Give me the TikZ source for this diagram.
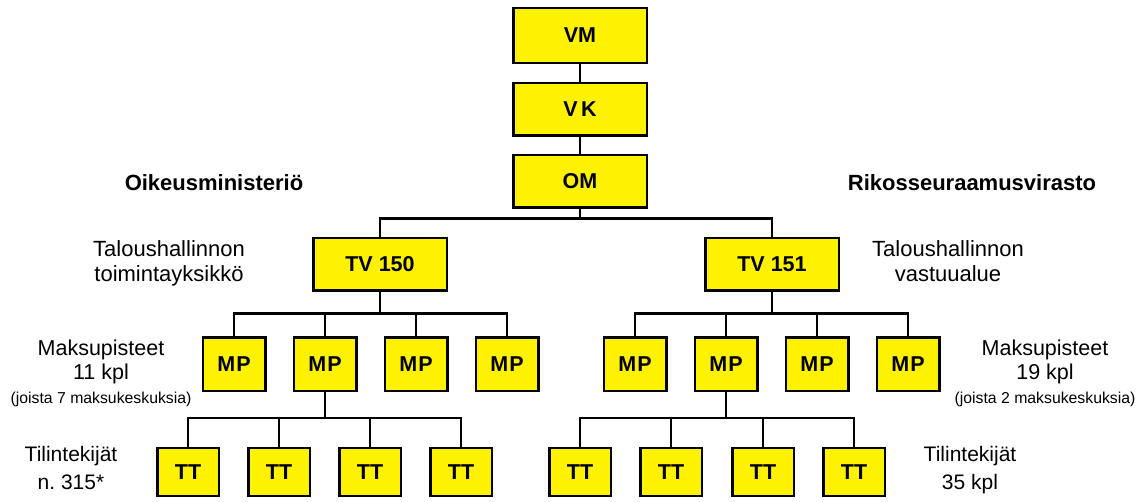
\documentclass[tikz,border=0pt]{standalone}
\usepackage{fontspec}
\setmainfont{Liberation Sans}

\begin{document}
\begin{tikzpicture}[x=1pt, y=-1pt,
  box/.style={rectangle, draw, fill=yellow, line width=2.5pt, inner sep=0pt,
              font=\fontsize{21.5}{24}\selectfont\bfseries},
  bigbox/.style={box, minimum width=133.5pt, minimum height=52.5pt},
  mpbox/.style={box, minimum width=62.5pt, minimum height=53.5pt},
  ttbox/.style={box, minimum width=61.5pt, minimum height=48pt},
  conn/.style={line width=2.5pt},
  lbl/.style={align=center, inner sep=0pt},
  head/.style={inner sep=0pt, font=\fontsize{22}{26}\selectfont\bfseries}
]
\useasboundingbox (0,0) rectangle (1142,501);

\node[bigbox, minimum height=55pt] (vm) at (580,35.5) {VM};
\node[bigbox] (vk) at (580,109) {V\,K};
\node[bigbox] (om) at (580,181) {OM};

\node[bigbox] (tv150) at (380,264) {TV 150};
\node[bigbox] (tv151) at (772,264) {TV 151};

\node[mpbox] (mpa1) at (234,364) {M\kern1pt P};
\node[mpbox] (mpa2) at (325,364) {M\kern1pt P};
\node[mpbox] (mpa3) at (416,364) {M\kern1pt P};
\node[mpbox] (mpa4) at (507,364) {M\kern1pt P};
\node[mpbox] (mpb1) at (635,364) {M\kern1pt P};
\node[mpbox] (mpb2) at (726,364) {M\kern1pt P};
\node[mpbox] (mpb3) at (817,364) {M\kern1pt P};
\node[mpbox] (mpb4) at (908,364) {M\kern1pt P};

\node[ttbox] (tta1) at (188,472) {TT};
\node[ttbox] (tta2) at (279,472) {TT};
\node[ttbox] (tta3) at (370,472) {TT};
\node[ttbox] (tta4) at (461,472) {TT};
\node[ttbox] (ttb1) at (580,472) {TT};
\node[ttbox] (ttb2) at (671,472) {TT};
\node[ttbox] (ttb3) at (763,472) {TT};
\node[ttbox] (ttb4) at (854,472) {TT};

\node[head] (oikeus) at (214,183) {Oikeusministeriö};
\node[head] (rikos) at (972,183) {Rikosseuraamusvirasto};

\node[lbl, font=\fontsize{22}{25}\selectfont] (talleft) at (169,263.5) {
  Taloushallinnon\\
  toimintayksikkö
};
\node[lbl, font=\fontsize{22}{25}\selectfont] (talright) at (948,261) {
  Taloushallinnon\\
  vastuualue
};
\node[lbl, font=\fontsize{21.5}{24}\selectfont] (mpleft) at (101,373) {
  Maksupisteet\\
  11 kpl\\
  {\fontsize{15.8}{18}\selectfont (joista 7 maksukeskuksia)}
};
\node[lbl, font=\fontsize{21.5}{24}\selectfont] (mpright) at (1045,373) {
  Maksupisteet\\
  19 kpl\\
  {\fontsize{15.8}{18}\selectfont (joista 2 maksukeskuksia)}
};
\node[lbl, font=\fontsize{21}{28}\selectfont] (ttleft) at (71,468) {
  Tilintekijät\\
  n.\ 315*
};
\node[lbl, font=\fontsize{21}{28}\selectfont] (ttright) at (970,470) {
  Tilintekijät\\
  35 kpl
};

\draw[conn] (vm) -- (vk);
\draw[conn] (vk) -- (om);
\draw[conn] (om.south) -- ++(0,10) -| (tv150.north);
\draw[conn] (om.south) -- ++(0,10) -| (tv151.north);

\draw[conn] (tv150.south) -- ++(0,22) -| (mpa1.north);
\draw[conn] (tv150.south) -- ++(0,22) -| (mpa2.north);
\draw[conn] (tv150.south) -- ++(0,22) -| (mpa3.north);
\draw[conn] (tv150.south) -- ++(0,22) -| (mpa4.north);
\draw[conn] (tv151.south) -- ++(0,22) -| (mpb1.north);
\draw[conn] (tv151.south) -- ++(0,22) -| (mpb2.north);
\draw[conn] (tv151.south) -- ++(0,22) -| (mpb3.north);
\draw[conn] (tv151.south) -- ++(0,22) -| (mpb4.north);

\draw[conn] (mpa2.south) -- ++(0,26) -| (tta1.north);
\draw[conn] (mpa2.south) -- ++(0,26) -| (tta2.north);
\draw[conn] (mpa2.south) -- ++(0,26) -| (tta3.north);
\draw[conn] (mpa2.south) -- ++(0,26) -| (tta4.north);
\draw[conn] (mpb2.south) -- ++(0,26) -| (ttb1.north);
\draw[conn] (mpb2.south) -- ++(0,26) -| (ttb2.north);
\draw[conn] (mpb2.south) -- ++(0,26) -| (ttb3.north);
\draw[conn] (mpb2.south) -- ++(0,26) -| (ttb4.north);
\end{tikzpicture}
\end{document}
